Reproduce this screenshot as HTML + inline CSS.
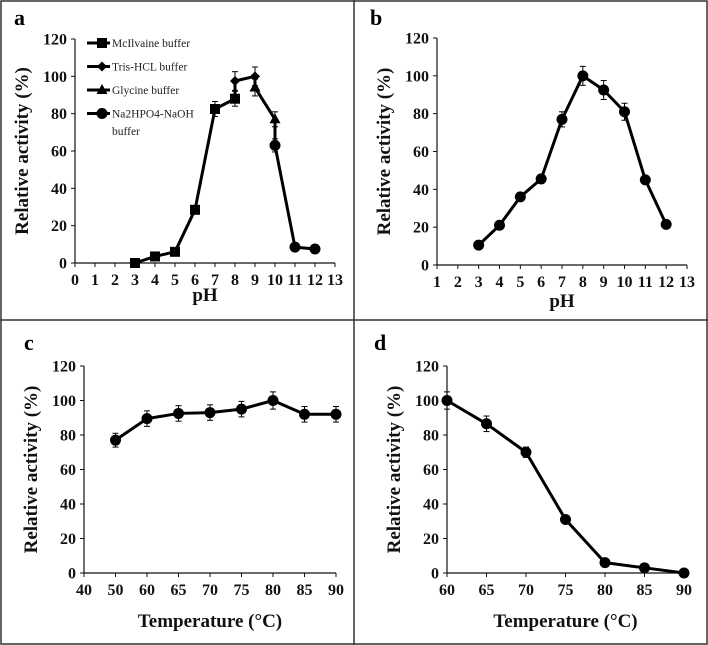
<!DOCTYPE html>
<html><head><meta charset="utf-8"><style>
html,body{margin:0;padding:0;background:#fff}
svg{display:block;font-family:"Liberation Serif",serif}
.t{font-weight:bold;font-size:16px;fill:#111}
.ax{font-weight:bold;font-size:19px;fill:#111}
.lg{font-size:11.5px;fill:#222}
</style></head><body>
<svg id="fig" width="708" height="645" viewBox="0 0 708 645">
<rect x="1" y="1" width="706" height="643" fill="#fff" stroke="#333" stroke-width="1.5"/>
<line x1="354" y1="0" x2="354" y2="645" stroke="#333" stroke-width="1.5"/>
<line x1="0" y1="320" x2="708" y2="320" stroke="#333" stroke-width="1.5"/>
</svg>
<script>
const aMcX=[3,4,5,6,7,8], aMcY=[0,3.5,6,28.5,82.5,88], aMcE=[1,1.5,1.5,2,4,4];
const aTrX=[8,9], aTrY=[97.5,100], aTrE=[5,5];
const aGlX=[9,10], aGlY=[94,77], aGlE=[4.5,4];
const aNaX=[10,11,12], aNaY=[63,8.5,7.5], aNaE=[3.5,1,1];
const bX=[3,4,5,6,7,8,9,10,11,12], bY=[10.5,21,36,45.5,77,100,92.5,81,45,21.5], bE=[1,1.5,1.5,1.5,4,5,5,4.5,1.5,1];
const cCats=['40','50','60','65','70','75','80','85','90'];
const cY=[null,77,89.5,92.5,93,95,100,92,92], cE=[0,4,4.5,4.5,4.5,4.5,5,4.5,4.5];
const dCats=['60','65','70','75','80','85','90'];
const dY=[100,86.5,70,31,6,3,0], dE=[5,4.5,3,1,1,1,0.5];
const yTicks=[0,20,40,60,80,100,120];
const NS='http://www.w3.org/2000/svg', svg=document.getElementById('fig');
function el(t,a,txt){const e=document.createElementNS(NS,t);for(const k in a)e.setAttribute(k,a[k]);if(txt!==undefined)e.textContent=txt;svg.appendChild(e);return e;}
function panel(p){
  const sx=v=>p.x0+(v-p.xmin)*(p.x1-p.x0)/(p.xmax-p.xmin);
  const sy=v=>p.y0-(v)*(p.y0-p.y1)/120;
  let e=el('line',{x1:p.x0,y1:p.y0,x2:p.x0,y2:p.y1,stroke:'#111','stroke-width':1.2});
  
  
  e=el('line',{x1:p.x0,y1:p.y0,x2:p.x1,y2:p.y0,stroke:'#111','stroke-width':1.2});
  
  
  yTicks.forEach(v=>{
    el('line',{x1:p.x0-4,y1:sy(v),x2:p.x0,y2:sy(v),stroke:'#111'});
    const t=el('text',{x:p.x0-8,y:sy(v)+5.5,class:'t','text-anchor':'end'},String(v));
    
    
  });
  p.xt.forEach((lab,i)=>{
    const xv=p.xtv[i];
    el('line',{x1:sx(xv),y1:p.y0,x2:sx(xv),y2:p.y0+4,stroke:'#111'});
    const t=el('text',{x:sx(xv),y:p.y0+22,class:'t','text-anchor':'middle'},lab);
    
    
  });
  let t=el('text',{x:p.lx,y:p.ly,'font-weight':'bold','font-size':'22px'},p.id);
  
  
  t=el('text',{x:(p.x0+p.x1)/2,y:p.xtY,class:'ax','text-anchor':'middle','font-size':p.xfs||19},p.xtitle);
  
  
  const cy=(p.y0+p.y1)/2, cx=p.x0-47;
  t=el('text',{x:cx,y:cy,class:'ax','text-anchor':'middle',transform:`rotate(-90 ${cx} ${cy})`},'Relative  activity (%)');
  
  
  const pts=[];p.series.forEach(s=>s.x.forEach((x,i)=>{if(s.y[i]!==null)pts.push([sx(x),sy(s.y[i])]);}));
  e=el('polyline',{points:pts.map(q=>q.join(',')).join(' '),fill:'none',stroke:'#000','stroke-width':3,'stroke-linejoin':'round'});
  
  
  p.series.forEach(s=>s.x.forEach((x,i)=>{
    if(s.y[i]===null)return;
    const X=sx(x),Y=sy(s.y[i]),ey=s.e[i]*(p.y0-p.y1)/120;
    el('line',{x1:X,y1:Y-ey,x2:X,y2:Y+ey,stroke:'#000','stroke-width':1});
    el('line',{x1:X-3,y1:Y-ey,x2:X+3,y2:Y-ey,stroke:'#000','stroke-width':1});
    el('line',{x1:X-3,y1:Y+ey,x2:X+3,y2:Y+ey,stroke:'#000','stroke-width':1});
    const m=marker(s.m,X,Y);
    
    
  }));
}
function marker(m,X,Y){
  if(m==='sq')return el('rect',{x:X-5,y:Y-5,width:10,height:10,fill:'#000'});
  if(m==='di')return el('polygon',{points:`${X},${Y-5} ${X+5},${Y} ${X},${Y+5} ${X-5},${Y}`,fill:'#000'});
  if(m==='tr')return el('polygon',{points:`${X},${Y-6} ${X+5.5},${Y+4} ${X-5.5},${Y+4}`,fill:'#000'});
  return el('circle',{cx:X,cy:Y,r:5.5,fill:'#000'});
}
const r13=[...Array(14).keys()];
panel({id:'a',x0:75,x1:335,xmin:0,xmax:13,y0:263,y1:39,xt:r13.map(String),xtv:r13,lx:14,ly:25,xtitle:'pH',xtY:301,xfs:21,
  series:[{x:aMcX,y:aMcY,e:aMcE,m:'sq'},{x:aTrX,y:aTrY,e:aTrE,m:'di'},{x:aGlX,y:aGlY,e:aGlE,m:'tr'},{x:aNaX,y:aNaY,e:aNaE,m:'ci'}]});
const r1=r13.slice(1);
panel({id:'b',x0:437,x1:687,xmin:1,xmax:13,y0:265,y1:38,xt:r1.map(String),xtv:r1,lx:370,ly:25,xtitle:'pH',xtY:307,xfs:21,
  series:[{x:bX,y:bY,e:bE,m:'ci'}]});
const cIdx=cCats.map((c,i)=>i);
panel({id:'c',x0:84,x1:336,xmin:0,xmax:8,y0:573,y1:366,xt:cCats,xtv:cIdx,lx:24,ly:350,xtitle:'Temperature (°C)',xtY:627,
  series:[{x:cIdx,y:cY,e:cE,m:'ci'}]});
const dIdx=dCats.map((c,i)=>i);
panel({id:'d',x0:447,x1:684,xmin:0,xmax:6,y0:573,y1:366,xt:dCats,xtv:dIdx,lx:374,ly:350,xtitle:'Temperature (°C)',xtY:627,
  series:[{x:dIdx,y:dY,e:dE,m:'ci'}]});
const legNames=['McIlvaine buffer','Tris-HCL buffer','Glycine buffer','Na2HPO4-NaOH'];
const legM=['sq','di','tr','ci'];
legNames.forEach((n,i)=>{
  const y=43+i*23.5;
  const l=el('line',{x1:87,y1:y,x2:110,y2:y,stroke:'#000','stroke-width':3});
  
  
  marker(legM[i],102,y);
  const t=el('text',{x:112,y:y+4,class:'lg'},n);
  
  
});
const t2=el('text',{x:112,y:135,class:'lg'},'buffer');


</script>
</body></html>
